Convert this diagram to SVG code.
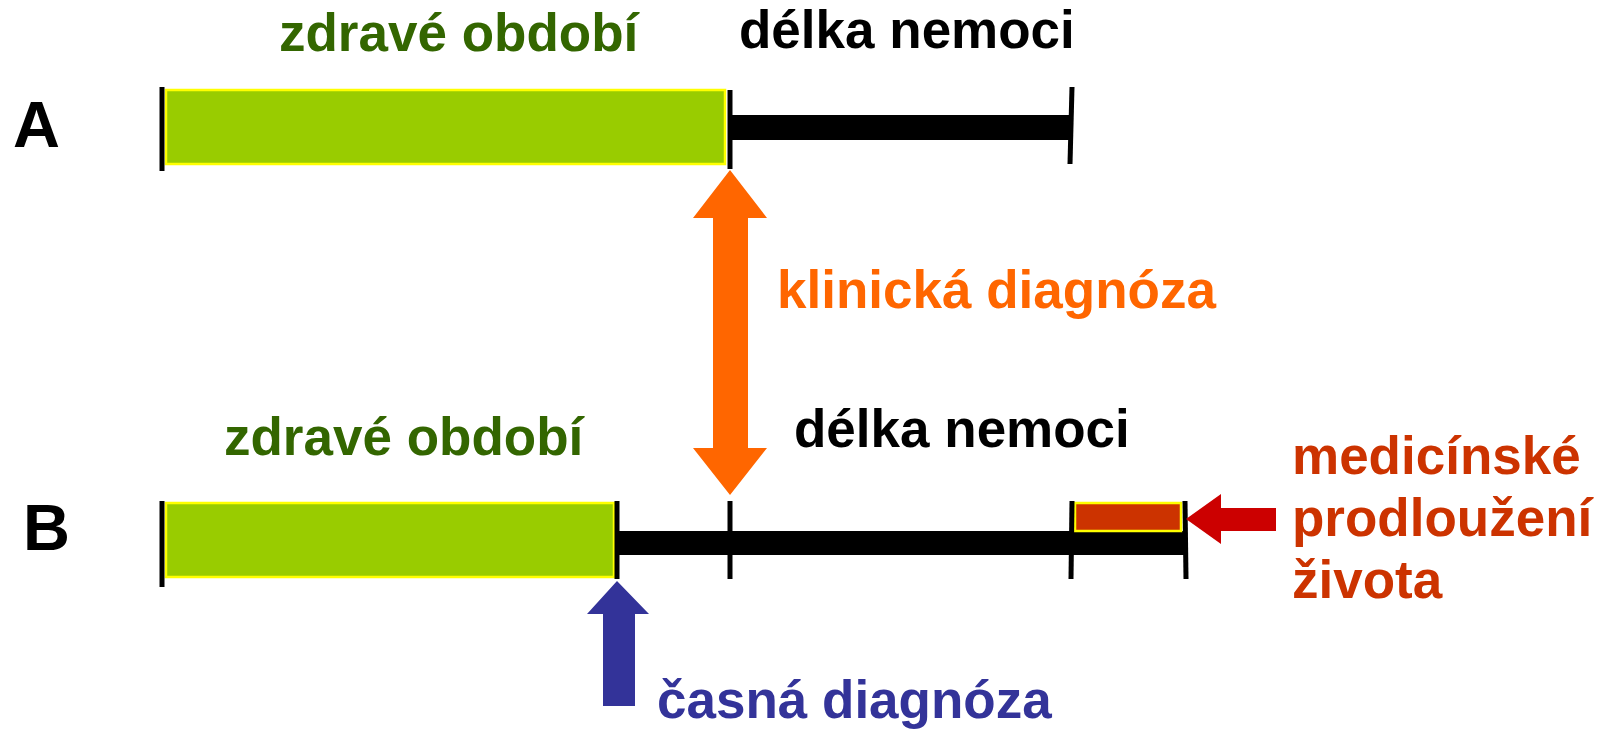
<svg xmlns="http://www.w3.org/2000/svg" width="1610" height="734" viewBox="0 0 1610 734">
  <style>
    text { font-family: "Liberation Sans", Arial, sans-serif; font-weight: bold; font-size: 53px; }
    .row { font-size: 65px; fill: #000; }
    .healthy { fill: #336600; }
    .disease { fill: #000; }
    .clinical { fill: #FF6600; }
    .early { fill: #333399; }
    .prolong { fill: #CC3300; }
    .tick { stroke: #000; stroke-width: 5; fill: none; }
    .bar { fill: #000; }
    .green { fill: #99CC00; stroke: #FFFF00; stroke-width: 2.5; }
    .extra { fill: #CC3300; stroke: #FFFF00; stroke-width: 2.5; }
  </style>

  <!-- Row labels -->
  <g id="label-A"><text class="row" x="13" y="147">A</text></g>
  <g id="label-B"><text class="row" x="23" y="550">B</text></g>

  <!-- Timeline A -->
  <g id="timeline-A">
    <rect class="bar" x="729" y="115" width="343" height="25"/>
    <rect class="green" x="166" y="90" width="559" height="74"/>
    <line class="tick" x1="162" y1="87" x2="162" y2="171"/>
    <line class="tick" x1="730" y1="90" x2="730" y2="169"/>
    <line class="tick" x1="1072" y1="87" x2="1070" y2="164"/>
  </g>
  <g id="text-A">
    <text class="healthy" x="279" y="51">zdravé období</text>
    <text class="disease" x="739" y="48">délka nemoci</text>
  </g>

  <!-- Timeline B -->
  <g id="timeline-B">
    <rect class="bar" x="616" y="531" width="569" height="24"/>
    <rect class="green" x="166" y="503" width="448" height="74"/>
    <rect class="extra" x="1075" y="503" width="106" height="28"/>
    <line class="tick" x1="162" y1="501" x2="162" y2="587"/>
    <line class="tick" x1="617" y1="501" x2="617" y2="579"/>
    <line class="tick" x1="730" y1="501" x2="730" y2="579"/>
    <line class="tick" x1="1072" y1="501" x2="1071" y2="579"/>
    <line class="tick" x1="1185" y1="501" x2="1186" y2="579"/>
  </g>
  <g id="text-B">
    <text class="healthy" x="224" y="455">zdravé období</text>
    <text class="disease" x="794" y="447">délka nemoci</text>
  </g>

  <!-- Arrows -->
  <g id="connectors">
    <polygon fill="#FF6600" points="730,170 767,218 748,218 748,448 767,448 730,495 693,448 713,448 713,218 693,218"/>
    <polygon fill="#333399" points="617,581 649,614 635,614 635,706 603,706 603,614 587,614"/>
    <polygon fill="#CC0000" points="1186,519 1221,494 1221,508 1276,508 1276,531 1221,531 1221,544"/>
  </g>

  <g id="label-clinical"><text class="clinical" x="777" y="308">klinická diagnóza</text></g>
  <g id="label-early"><text class="early" x="657" y="718">časná diagnóza</text></g>
  <g id="label-prolong">
    <text class="prolong" x="1292" y="474">medicínské</text>
    <text class="prolong" x="1292" y="536">prodloužení</text>
    <text class="prolong" x="1292" y="598">života</text>
  </g>
</svg>
